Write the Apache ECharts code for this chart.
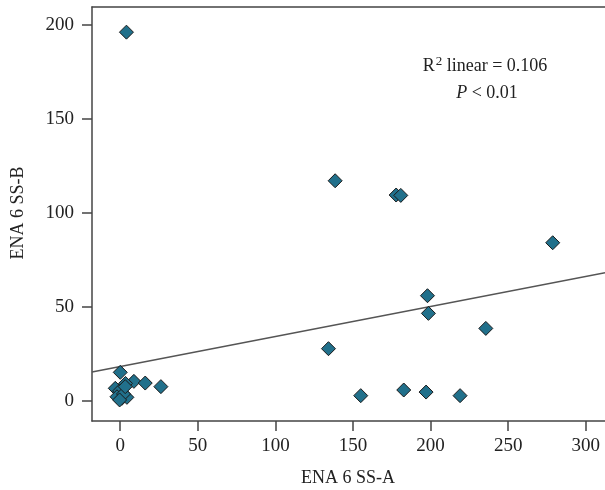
<!DOCTYPE html>
<html>
<head>
<meta charset="utf-8">
<script src="https://cdn.jsdelivr.net/npm/echarts@6/dist/echarts.min.js"></script>
<style>
html,body{margin:0;padding:0;background:#fff;}
#c{width:605px;height:490px;}
</style>
</head>
<body>
<div id="c"></div>
<script>
// Data (ENA 6 SS-A vs ENA 6 SS-B)
var ssA = [4, 138.5, 177.8, 180.8, 278.7, 198, 198.6, 235.6, 134.2, 155, 182.7, 197.1, 219,
           0, 8.8, 16.1, 26.2, 3.4, -3.2, -0.4, -2.1, 1.1, 4.3, 2.1, -0.4, 3.2];
var ssB = [196.2, 117.1, 109.5, 109.3, 84.1, 55.9, 46.5, 38.5, 27.7, 2.7, 5.7, 4.6, 2.7,
           15.1, 10.3, 9.4, 7.5, 9.2, 6.6, 5.2, 2.1, 1.3, 1.8, 3.6, 0.4, 7.5];
var xTicks = [0, 50, 100, 150, 200, 250, 300];
var yTicks = [0, 50, 100, 150, 200];
var fitIntercept = 18.2;
var fitSlope = 0.16;
var fitX = [-18.2, 312.4];
var xTitle = 'ENA 6 SS-A';
var yTitle = 'ENA 6 SS-B';

var pts = ssA.map(function (x, i) { return [x, ssB[i]]; });
var fitPts = fitX.map(function (x) { return [x, fitIntercept + fitSlope * x]; });

var FONT = '"Liberation Serif", "DejaVu Serif", serif';
var AX = '#444';
var chart = echarts.init(document.getElementById('c'), null, {renderer: 'canvas'});
chart.setOption({
  animation: false,
  grid: {left: 92, right: 0, top: 7, bottom: 69, outerBoundsMode: 'none', containLabel: false},
  xAxis: [{
    type: 'value', min: -18.2, max: 312.4,
    axisLine: {show: true, onZero: false, lineStyle: {color: AX, width: 1.5}},
    axisTick: {show: true, customValues: xTicks, length: 10, lineStyle: {color: AX, width: 1.5}},
    axisLabel: {customValues: xTicks, color: '#222', fontFamily: FONT, fontSize: 19, margin: 16},
    splitLine: {show: false}
  }, {
    type: 'value', position: 'top', min: -18.2, max: 312.4,
    axisLine: {show: true, onZero: false, lineStyle: {color: AX, width: 1.5}},
    axisTick: {show: false}, axisLabel: {show: false}, splitLine: {show: false}
  }],
  yAxis: {
    type: 'value', min: -10.8, max: 209.6,
    axisLine: {show: true, onZero: false, lineStyle: {color: AX, width: 1.5}},
    axisTick: {show: true, customValues: yTicks, length: 10, lineStyle: {color: AX, width: 1.5}},
    axisLabel: {customValues: yTicks, color: '#222', fontFamily: FONT, fontSize: 19, margin: 18},
    splitLine: {show: false}
  },
  graphic: [
    {type: 'text', x: 348, y: 478, style: {text: xTitle, font: '18px ' + FONT, fill: '#222', textAlign: 'center', textVerticalAlign: 'middle'}},
    {type: 'text', x: 18, y: 213, rotation: Math.PI / 2, style: {text: yTitle, font: '18px ' + FONT, fill: '#222', textAlign: 'center', textVerticalAlign: 'middle'}},
    {type: 'text', x: 485, y: 66, style: {
      text: '{n|R}{s|2}{n| linear = 0.106}', textAlign: 'center', textVerticalAlign: 'middle',
      rich: {n: {font: '18px ' + FONT, fill: '#222'}, s: {font: '13px ' + FONT, fill: '#222', padding: [0, 0, 9, 1]}}
    }},
    {type: 'text', x: 487, y: 93, style: {
      text: '{i|P}{n| < 0.01}', textAlign: 'center', textVerticalAlign: 'middle',
      rich: {n: {font: '18px ' + FONT, fill: '#222'}, i: {font: 'italic 18px ' + FONT, fill: '#222'}}
    }}
  ],
  series: [
    {type: 'line', data: fitPts, symbol: 'none', lineStyle: {color: '#555', width: 1.5}, z: 1, silent: true},
    {type: 'scatter', data: pts, symbol: 'diamond', symbolSize: 14,
     itemStyle: {color: '#21708b', borderColor: '#1a1a1a', borderWidth: 1, opacity: 1}, z: 2}
  ]
});
</script>
</body>
</html>
